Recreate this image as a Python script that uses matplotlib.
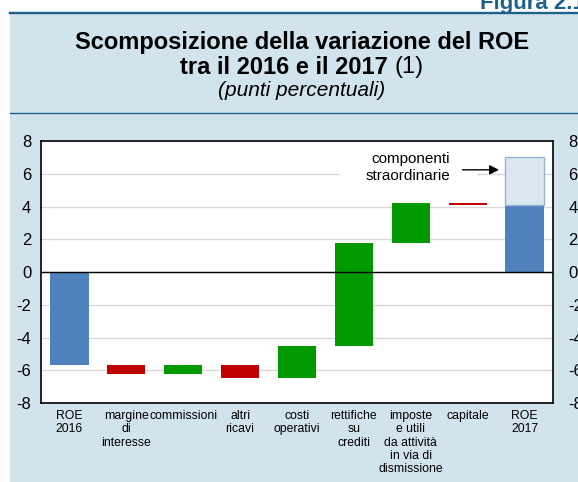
import matplotlib.pyplot as plt
from matplotlib.patches import Rectangle
from matplotlib.lines import Line2D

plt.rcParams['font.family'] = ['Liberation Sans', 'DejaVu Sans']
plt.rcParams['axes.unicode_minus'] = False

# dati (punti percentuali)
categorie = ["ROE\n2016", "margine\ndi\ninteresse", "commissioni", "altri\nricavi",
             "costi\noperativi", "rettifiche\nsu\ncrediti",
             "imposte\ne utili\nda attività\nin via di\ndismissione", "capitale", "ROE\n2017"]
roe_2016 = -5.7
variazioni = [-0.5, 0.55, -0.8, 1.95, 6.25, 2.45, -0.1]
roe_2017_ordinario = 4.1
roe_2017_straordinario = 2.9

BLU = "#4f81bd"
BLU_CHIARO = "#dce6f1"
VERDE = "#009900"
ROSSO = "#c00000"
SFONDO = "#d1e3ed"
LINEA = "#1e6189"

W, H = 578, 482
fig = plt.figure(figsize=(W / 100, H / 100), dpi=100)

# pannello di sfondo e linee
fig.patches.append(Rectangle((10 / W, 0), 1, 1 - 13 / H, transform=fig.transFigure,
                             facecolor=SFONDO, edgecolor="none", zorder=0))
fig.lines.append(Line2D([10 / W, 1], [1 - 12.8 / H] * 2, transform=fig.transFigure,
                        color=LINEA, lw=1.7))
fig.lines.append(Line2D([10 / W, 1], [1 - 113 / H] * 2, transform=fig.transFigure,
                        color=LINEA, lw=1))

fig.text(480 / W, 1 - 9 / H, "Figura 2.1", fontsize=16, fontweight="bold",
         color=LINEA, ha="left", va="baseline")

cx = 302 / W
fig.text(cx, 1 - 43 / H, "Scomposizione della variazione del ROE", fontsize=17,
         fontweight="bold", ha="center", va="center")
# seconda riga: parte in grassetto + "(1)" normale, centrate insieme
r = fig.canvas.get_renderer()
ta = fig.text(0, 1 - 67 / H, "tra il 2016 e il 2017 ", fontsize=17, fontweight="bold",
              ha="left", va="center")
tb = fig.text(0, 1 - 67 / H, "(1)", fontsize=17, ha="left", va="center")
wa = ta.get_window_extent(r).width / fig.bbox.width
wb = tb.get_window_extent(r).width / fig.bbox.width
ta.set_x(cx - (wa + wb) / 2)
tb.set_x(cx - (wa + wb) / 2 + wa)
fig.text(cx, 1 - 91 / H, "(punti percentuali)", fontsize=15, style="italic",
         ha="center", va="center")

ax = fig.add_axes([41 / W, 79 / H, 512 / W, 262 / H])
ax.set_facecolor("white")
ax.set_zorder(2)

x = list(range(len(categorie)))
w = 0.67

ax.bar(0, roe_2016, width=w, color=BLU, zorder=3)
livello = roe_2016
for i, v in enumerate(variazioni, start=1):
    colore = VERDE if v > 0 else ROSSO
    ax.bar(i, v, bottom=livello, width=w, color=colore, zorder=3)
    livello += v
ax.bar(8, roe_2017_ordinario, width=w, color=BLU, zorder=3)
ax.bar(8, roe_2017_straordinario, bottom=roe_2017_ordinario, width=w,
       color=BLU_CHIARO, edgecolor="#95b3d7", linewidth=1, zorder=3)

ax.axhline(0, color="black", lw=1, zorder=4)
ax.set_xlim(-0.5, len(categorie) - 0.5)
ax.set_ylim(-8, 8)
ax.set_yticks(range(-8, 9, 2))
ax.yaxis.grid(True, color="#d9d9d9", lw=1)
ax.set_axisbelow(True)
ax.set_xticks(x)
ax.set_xticklabels(categorie, fontsize=8.8, linespacing=1.15)
ax.tick_params(axis="x", length=0, pad=5)
ax.tick_params(axis="y", length=0, labelsize=12, pad=7)
for s in ax.spines.values():
    s.set_color("black")
    s.set_linewidth(1.2)

ax2 = ax.twinx()
ax2.set_ylim(-8, 8)
ax2.set_yticks(range(-8, 9, 2))
ax2.tick_params(axis="y", length=0, labelsize=12, pad=11)
for s in ax2.spines.values():
    s.set_visible(False)

# riquadro bianco dietro l'etichetta (interrompe la griglia)
ax.add_patch(Rectangle((4.75, 5.4), 2.41, 2.0, facecolor="white", edgecolor="none",
                       zorder=2.5))
ax.text(6.69, 6.39, "componenti\nstraordinarie", fontsize=11, ha="right", va="center",
        linespacing=1.3, zorder=5)
ax.annotate("", xy=(7.6, 6.24), xytext=(6.86, 6.24),
            arrowprops=dict(arrowstyle="-|>", color="black", lw=1, mutation_scale=14),
            zorder=5)

fig.savefig("out.png", dpi=100)
